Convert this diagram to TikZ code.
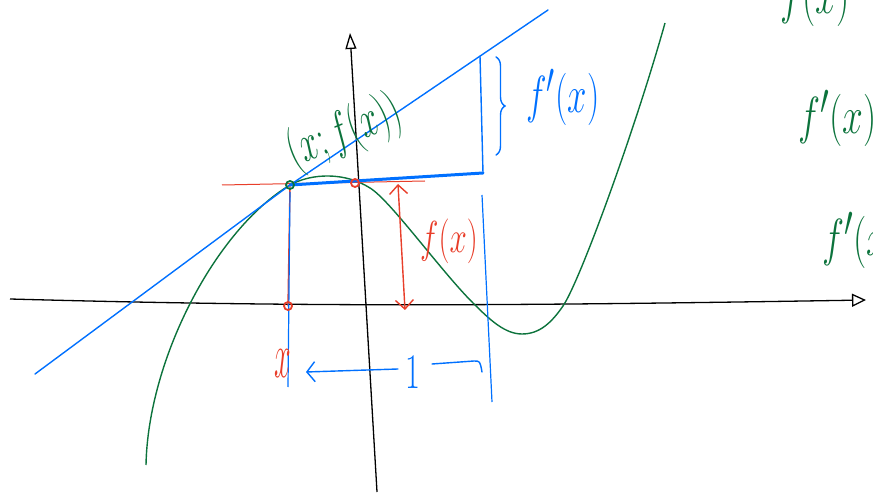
\documentclass[tikz,border=0pt]{standalone}
\usepackage{amsmath,amssymb}
\usepackage{tikz}
\usetikzlibrary{arrows.meta,decorations.pathreplacing,calc}
\usepackage{xcolor}
\definecolor{inkgreen}{RGB}{12,115,60}
\definecolor{inkblue}{RGB}{0,112,255}
\definecolor{inkred}{RGB}{232,62,42}

\begin{document}
\begin{tikzpicture}[x=1pt, y=-1pt,
    axis/.style={black, line width=1.3pt},
    pen/.style={line width=1.4pt, line cap=round},
    dot/.style={circle, draw=#1, line width=1.8pt, inner sep=0pt, minimum size=8pt},
    hand/.style={inner sep=0pt, font=\Huge}]
    \useasboundingbox (0,0) rectangle (873,494);
    \clip (0,0) rectangle (873,494);
    \coordinate (xl) at (10,299);
    \coordinate (xr) at (866,300);
    \coordinate (yb) at (377,492);
    \coordinate (yt) at (350,33);
    \coordinate (P) at (290,185);
    \coordinate (Q) at (483,173);
    \coordinate (R) at (480,56);
    \draw[axis, -{Triangle[open, length=14pt, width=13pt]}] (xl) .. controls (300,307) and (500,306) .. (xr);
    \draw[axis, -{Triangle[open, length=16pt, width=11pt]}] (yb) -- (yt);
    \draw[inkgreen, line width=1.4pt] (146,465) .. controls (148,360) and (215,230) .. (P)
        .. controls (312,173) and (345,172) .. (370,188)
        .. controls (390,200) and (440,270) .. (473,303)
        .. controls (490,320) and (505,334) .. (522,334)
        .. controls (540,334) and (552,322) .. (563,306)
        .. controls (580,281) and (635,130) .. (665,23);
    \draw[inkred, line width=1pt] (222,185) -- (425,181);
    \draw[pen, inkred] (P) -- (288,306);
    \draw[pen, inkblue] (35,374) -- (P) -- (548,10);
    \draw[inkblue, line width=3pt, line cap=round] (P) -- (Q);
    \draw[pen, inkblue] (Q) -- (R);
    \draw[inkblue, line width=1.2pt] (482,195) -- (492,402);
    \draw[inkblue, line width=1.2pt] (290,192) -- (288,387);
    \node[dot=inkred] (xdot) at (288,306) {};
    \node[dot=inkred] (ydot) at (355,183) {};
    \node[dot=inkgreen] (pdot) at (P) {};
    \draw[pen, inkred, {Straight Barb[length=9pt, width=18pt]}-{Straight Barb[length=9pt, width=18pt]}] (398,184) -- (405,310);
    \node[hand, inkred, xscale=1.25, yscale=1.8] (fx) at (449,241) {$f(x)$};
    \node[hand, inkred, xscale=1.2, yscale=2.6] (xlbl) at (283,364) {$x$};
    \draw[pen, inkblue, -{Straight Barb[length=8pt, width=20pt]}] (398,369) -- (306,372);
    \node[hand, inkblue, xscale=1.3, yscale=2] (one) at (413,372) {$1$};
    \draw[pen, inkblue] (432,364) -- (474,361) .. controls (480,361) .. (482,372);
    \draw[pen, inkblue, decorate, decoration={brace, amplitude=9pt}] (496,57) -- (496,155);
    \node[hand, inkblue, xscale=1.4, yscale=2.1] (slope) at (563,97) {$f'(x)$};
    \node[hand, inkgreen, rotate=22, xscale=1.35, yscale=2.1] (plbl) at (345,133) {$(x;f(x))$};
    \node[hand, inkgreen, anchor=west, xscale=1.5, yscale=2.1] (r1) at (780,0) {$f(x)$};
    \node[hand, inkgreen, anchor=west, xscale=1.5, yscale=2.1] (r2) at (798,118) {$f'(x)$};
    \node[hand, inkgreen, anchor=west, xscale=1.5, yscale=2.1] (r3) at (822,240) {$f'(x)$};
\end{tikzpicture}
\end{document}
